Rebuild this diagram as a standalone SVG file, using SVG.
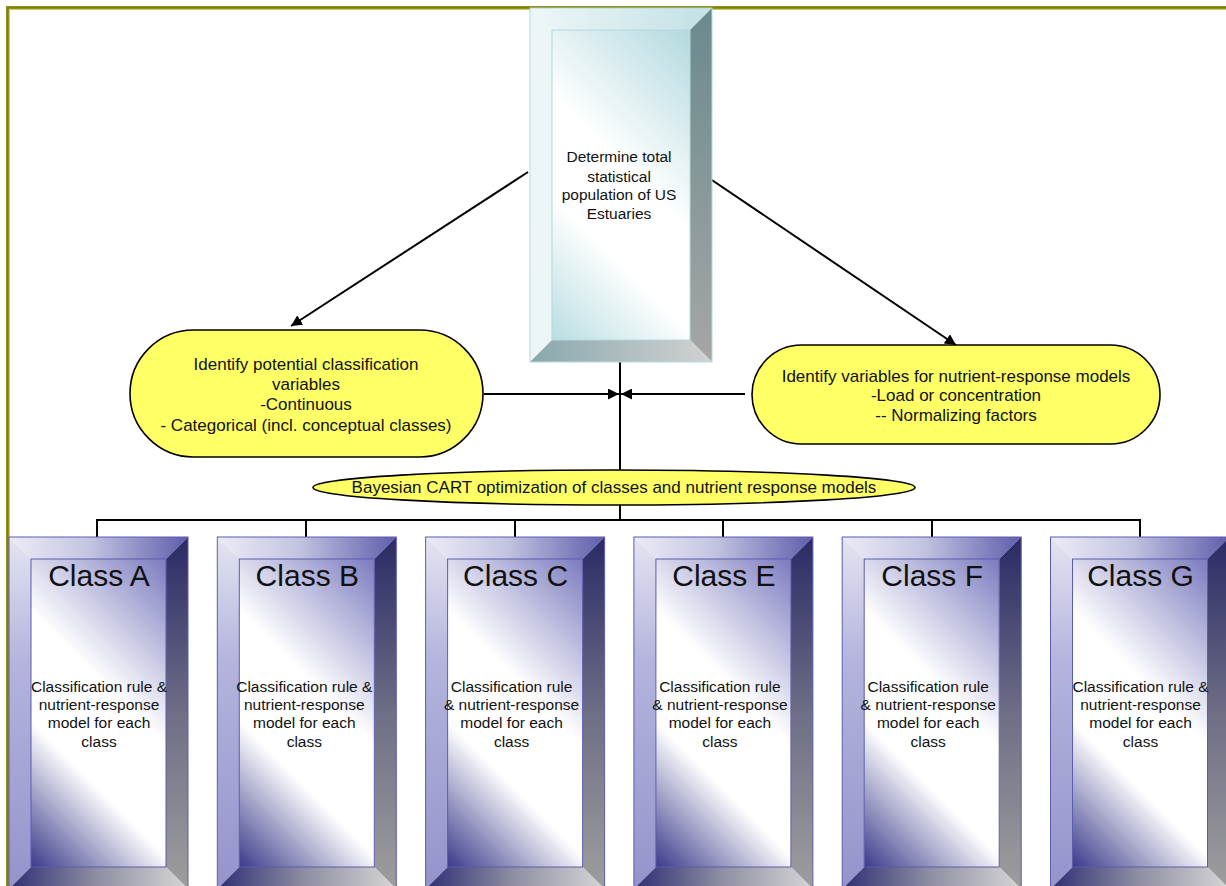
<svg xmlns="http://www.w3.org/2000/svg" width="1226" height="886" viewBox="0 0 1226 886">
  <style>
    .txt { font-family: "Liberation Sans", Arial, sans-serif; fill: #111; text-anchor: middle; }
    .t15 { font-size: 15.5px; }
    .t17 { font-size: 17px; }
    .title { font-size: 30px; }
    .conn { stroke: #000; stroke-width: 2; fill: none; }
    .oval { fill: #ffff66; stroke: #000; stroke-width: 1.6; }
    .cl-face { fill: url(#clFace); }
    .cl-top { fill: url(#clTop); }
    .cl-left { fill: url(#clLeft); }
    .cl-right { fill: url(#clRight); }
    .cl-bottom { fill: url(#clBottom); }
    .cl-edge { fill: none; stroke: #5c5cb0; stroke-width: 1; }
    .tb-face { fill: url(#tbFace); }
    .tb-top { fill: url(#tbTop); }
    .tb-left { fill: #ecf6f7; }
    .tb-right { fill: url(#tbRight); }
    .tb-bottom { fill: url(#tbBottom); }
    .tb-edge { fill: none; stroke: #b4dade; stroke-width: 1; }
  </style>
  <defs>
    <!-- class box bevel shading (coordinates are local to each class group) -->
    <linearGradient id="clFace" gradientUnits="userSpaceOnUse" x1="22" y1="330" x2="243" y2="109">
      <stop offset="0" stop-color="#3a3a8a"/>
      <stop offset="0.33" stop-color="#ffffff"/>
      <stop offset="0.58" stop-color="#ffffff"/>
      <stop offset="1" stop-color="#7c7cc0"/>
    </linearGradient>
    <linearGradient id="clTop" x1="0" y1="0" x2="1" y2="0">
      <stop offset="0" stop-color="#ececf6"/>
      <stop offset="0.45" stop-color="#c4c4e2"/>
      <stop offset="1" stop-color="#5e5eac"/>
    </linearGradient>
    <linearGradient id="clLeft" x1="0" y1="0" x2="0" y2="1">
      <stop offset="0" stop-color="#e4e4f2"/>
      <stop offset="0.35" stop-color="#b4b4de"/>
      <stop offset="1" stop-color="#9494cc"/>
    </linearGradient>
    <linearGradient id="clRight" x1="0" y1="0" x2="0" y2="1">
      <stop offset="0" stop-color="#2a2a66"/>
      <stop offset="0.5" stop-color="#6e6e86"/>
      <stop offset="1" stop-color="#9e9e9e"/>
    </linearGradient>
    <linearGradient id="clBottom" x1="0" y1="0" x2="1" y2="0">
      <stop offset="0" stop-color="#2e2e74"/>
      <stop offset="0.5" stop-color="#9090a4"/>
      <stop offset="1" stop-color="#d6d6d6"/>
    </linearGradient>
    <!-- top box bevel shading -->
    <linearGradient id="tbFace" gradientUnits="userSpaceOnUse" x1="552" y1="340" x2="774" y2="118">
      <stop offset="0" stop-color="#b8dde1"/>
      <stop offset="0.33" stop-color="#ffffff"/>
      <stop offset="0.55" stop-color="#ffffff"/>
      <stop offset="1" stop-color="#b4dadf"/>
    </linearGradient>
    <linearGradient id="tbTop" x1="0" y1="0" x2="1" y2="0">
      <stop offset="0" stop-color="#eef7f8"/>
      <stop offset="1" stop-color="#c2e0e4"/>
    </linearGradient>
    <linearGradient id="tbRight" x1="0" y1="0" x2="0" y2="1">
      <stop offset="0" stop-color="#6a8a8c"/>
      <stop offset="1" stop-color="#a6a6a6"/>
    </linearGradient>
    <linearGradient id="tbBottom" x1="0" y1="0" x2="1" y2="0">
      <stop offset="0" stop-color="#88a8ac"/>
      <stop offset="1" stop-color="#d2d2d2"/>
    </linearGradient>
    <marker id="arrow" viewBox="0 0 10 10" refX="10" refY="5" markerWidth="11" markerHeight="11" markerUnits="userSpaceOnUse" orient="auto">
      <path d="M0,0 L10,5 L0,10 z" fill="#000"/>
    </marker>
  </defs>

  <rect width="1226" height="886" fill="#ffffff"/>

  <!-- page frame -->
  <path d="M8,890 V8 H1230" fill="none" stroke="#c8c870" stroke-width="4"/>
  <path d="M7.5,890 V7.5 H1230" fill="none" stroke="#7f7f00" stroke-width="2.5"/>

  <!-- connectors -->
  <g id="connectors">
    <line class="conn" x1="528" y1="172" x2="291" y2="326" marker-end="url(#arrow)"/>
    <line class="conn" x1="700" y1="172" x2="956" y2="345" marker-end="url(#arrow)"/>
    <line class="conn" x1="620" y1="362" x2="620" y2="470"/>
    <line class="conn" x1="484" y1="394" x2="619" y2="394" marker-end="url(#arrow)"/>
    <line class="conn" x1="745" y1="394" x2="621" y2="394" marker-end="url(#arrow)"/>
    <line class="conn" x1="620" y1="505" x2="620" y2="520"/>
    <path class="conn" d="M97,537 V520 H1140 V537 M306,520 V537 M515,520 V537 M723,520 V537 M932,520 V537"/>
  </g>

  <!-- top process box -->
  <g id="population">
    <polygon class="tb-top" points="530,8 712,8 690,30 552,30"/>
    <polygon class="tb-left" points="530,8 552,30 552,340 530,362"/>
    <polygon class="tb-right" points="712,8 712,362 690,340 690,30"/>
    <polygon class="tb-bottom" points="530,362 712,362 690,340 552,340"/>
    <rect class="tb-face" x="552" y="30" width="138" height="310"/>
    <rect class="tb-edge" x="530" y="8" width="182" height="354"/>
    <rect class="tb-edge" x="552" y="30" width="138" height="310"/>
    <text class="txt t15" x="619" y="162">Determine total</text>
    <text class="txt t15" x="619" y="182">statistical</text>
    <text class="txt t15" x="619" y="200">population of US</text>
    <text class="txt t15" x="619" y="219">Estuaries</text>
  </g>

  <!-- classification variables -->
  <g id="classVars">
    <rect class="oval" x="130" y="330" width="353" height="127" rx="63.5" ry="63.5"/>
    <text class="txt t17" x="306" y="370">Identify potential classification</text>
    <text class="txt t17" x="306" y="390">variables</text>
    <text class="txt t17" x="306" y="410">-Continuous</text>
    <text class="txt t17" x="306" y="431">- Categorical (incl. conceptual classes)</text>
  </g>

  <!-- nutrient-response variables -->
  <g id="responseVars">
    <rect class="oval" x="752" y="345" width="408" height="99" rx="49.5" ry="49.5"/>
    <text class="txt t17" x="956" y="382">Identify variables for nutrient-response models</text>
    <text class="txt t17" x="956" y="401">-Load or concentration</text>
    <text class="txt t17" x="956" y="421">-- Normalizing factors</text>
  </g>

  <!-- optimization step -->
  <g id="bayesCart">
    <ellipse class="oval" cx="614" cy="487.5" rx="301" ry="17.5"/>
    <text class="txt t17" x="614" y="493">Bayesian CART optimization of classes and nutrient response models</text>
  </g>

  <!-- class boxes -->
  <g id="classA" transform="translate(9,537)">
    <polygon class="cl-top" points="0,0 179,0 157,22 22,22"/>
    <polygon class="cl-left" points="0,0 22,22 22,330 0,352"/>
    <polygon class="cl-right" points="179,0 179,352 157,330 157,22"/>
    <polygon class="cl-bottom" points="0,352 179,352 157,330 22,330"/>
    <rect class="cl-face" x="22" y="22" width="135" height="308"/>
    <rect class="cl-edge" x="0" y="0" width="179" height="352"/>
    <rect class="cl-edge" x="22" y="22" width="135" height="308"/>
    <text class="txt title" x="90" y="49">Class A</text>
    <text class="txt t15" x="90" y="155">Classification rule &amp;</text>
    <text class="txt t15" x="90" y="173">nutrient-response</text>
    <text class="txt t15" x="90" y="191">model for each</text>
    <text class="txt t15" x="90" y="210">class</text>
  </g>
  <g id="classB" transform="translate(217.3,537)">
    <polygon class="cl-top" points="0,0 179,0 157,22 22,22"/>
    <polygon class="cl-left" points="0,0 22,22 22,330 0,352"/>
    <polygon class="cl-right" points="179,0 179,352 157,330 157,22"/>
    <polygon class="cl-bottom" points="0,352 179,352 157,330 22,330"/>
    <rect class="cl-face" x="22" y="22" width="135" height="308"/>
    <rect class="cl-edge" x="0" y="0" width="179" height="352"/>
    <rect class="cl-edge" x="22" y="22" width="135" height="308"/>
    <text class="txt title" x="90" y="49">Class B</text>
    <text class="txt t15" x="87" y="155">Classification rule &amp;</text>
    <text class="txt t15" x="87" y="173">nutrient-response</text>
    <text class="txt t15" x="87" y="191">model for each</text>
    <text class="txt t15" x="87" y="210">class</text>
  </g>
  <g id="classC" transform="translate(425.6,537)">
    <polygon class="cl-top" points="0,0 179,0 157,22 22,22"/>
    <polygon class="cl-left" points="0,0 22,22 22,330 0,352"/>
    <polygon class="cl-right" points="179,0 179,352 157,330 157,22"/>
    <polygon class="cl-bottom" points="0,352 179,352 157,330 22,330"/>
    <rect class="cl-face" x="22" y="22" width="135" height="308"/>
    <rect class="cl-edge" x="0" y="0" width="179" height="352"/>
    <rect class="cl-edge" x="22" y="22" width="135" height="308"/>
    <text class="txt title" x="90" y="49">Class C</text>
    <text class="txt t15" x="86" y="155">Classification rule</text>
    <text class="txt t15" x="86" y="173">&amp; nutrient-response</text>
    <text class="txt t15" x="86" y="191">model for each</text>
    <text class="txt t15" x="86" y="210">class</text>
  </g>
  <g id="classE" transform="translate(633.9,537)">
    <polygon class="cl-top" points="0,0 179,0 157,22 22,22"/>
    <polygon class="cl-left" points="0,0 22,22 22,330 0,352"/>
    <polygon class="cl-right" points="179,0 179,352 157,330 157,22"/>
    <polygon class="cl-bottom" points="0,352 179,352 157,330 22,330"/>
    <rect class="cl-face" x="22" y="22" width="135" height="308"/>
    <rect class="cl-edge" x="0" y="0" width="179" height="352"/>
    <rect class="cl-edge" x="22" y="22" width="135" height="308"/>
    <text class="txt title" x="90" y="49">Class E</text>
    <text class="txt t15" x="86" y="155">Classification rule</text>
    <text class="txt t15" x="86" y="173">&amp; nutrient-response</text>
    <text class="txt t15" x="86" y="191">model for each</text>
    <text class="txt t15" x="86" y="210">class</text>
  </g>
  <g id="classF" transform="translate(842.2,537)">
    <polygon class="cl-top" points="0,0 179,0 157,22 22,22"/>
    <polygon class="cl-left" points="0,0 22,22 22,330 0,352"/>
    <polygon class="cl-right" points="179,0 179,352 157,330 157,22"/>
    <polygon class="cl-bottom" points="0,352 179,352 157,330 22,330"/>
    <rect class="cl-face" x="22" y="22" width="135" height="308"/>
    <rect class="cl-edge" x="0" y="0" width="179" height="352"/>
    <rect class="cl-edge" x="22" y="22" width="135" height="308"/>
    <text class="txt title" x="90" y="49">Class F</text>
    <text class="txt t15" x="86" y="155">Classification rule</text>
    <text class="txt t15" x="86" y="173">&amp; nutrient-response</text>
    <text class="txt t15" x="86" y="191">model for each</text>
    <text class="txt t15" x="86" y="210">class</text>
  </g>
  <g id="classG" transform="translate(1050.5,537)">
    <polygon class="cl-top" points="0,0 179,0 157,22 22,22"/>
    <polygon class="cl-left" points="0,0 22,22 22,330 0,352"/>
    <polygon class="cl-right" points="179,0 179,352 157,330 157,22"/>
    <polygon class="cl-bottom" points="0,352 179,352 157,330 22,330"/>
    <rect class="cl-face" x="22" y="22" width="135" height="308"/>
    <rect class="cl-edge" x="0" y="0" width="179" height="352"/>
    <rect class="cl-edge" x="22" y="22" width="135" height="308"/>
    <text class="txt title" x="90" y="49">Class G</text>
    <text class="txt t15" x="90" y="155">Classification rule &amp;</text>
    <text class="txt t15" x="90" y="173">nutrient-response</text>
    <text class="txt t15" x="90" y="191">model for each</text>
    <text class="txt t15" x="90" y="210">class</text>
  </g>
</svg>
